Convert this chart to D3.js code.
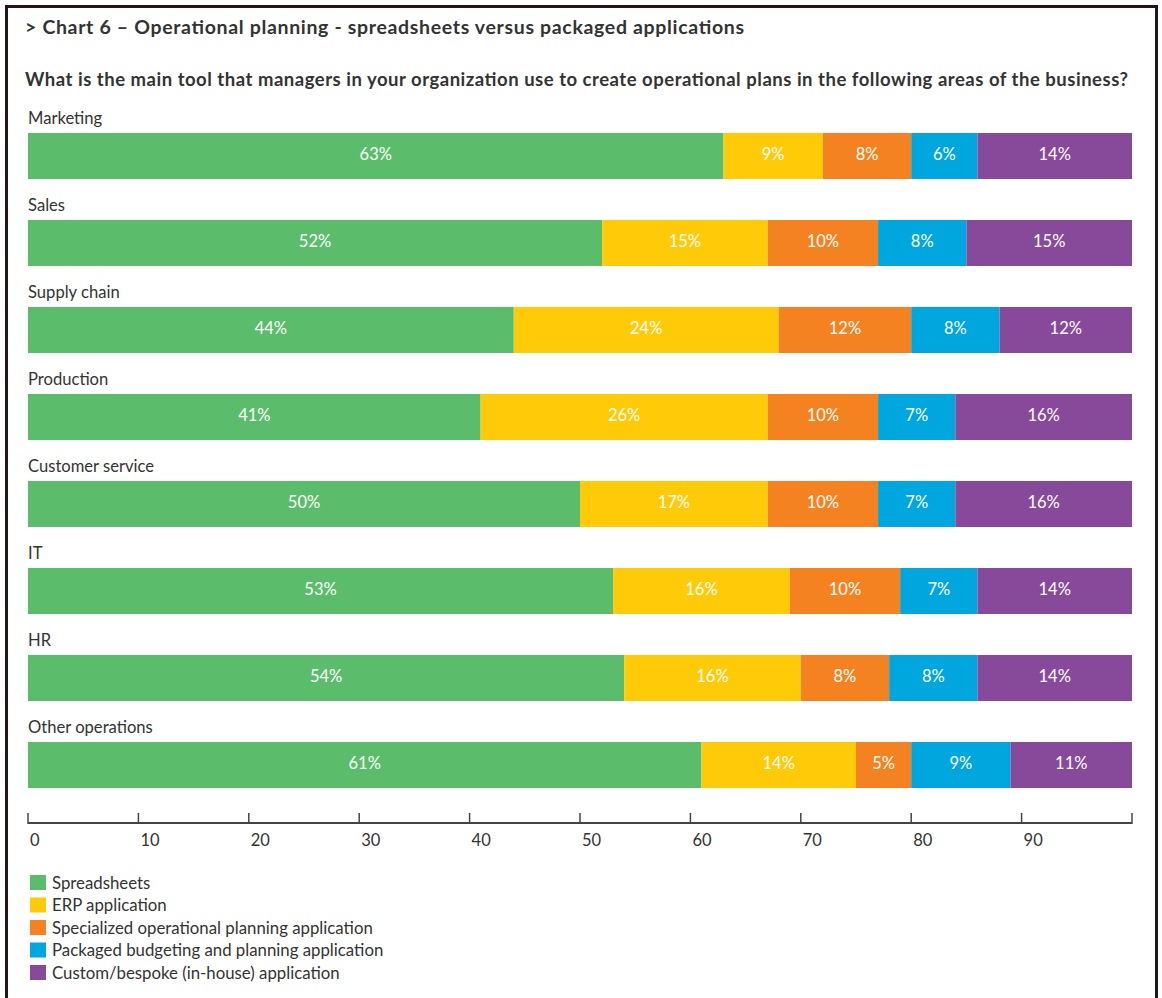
<!DOCTYPE html>
<html>
<head>
<meta charset="utf-8">
<script src="https://cdn.jsdelivr.net/npm/d3@7"></script>
<style>
  body { margin: 0; background: #fff; }
  svg text { font-family: Lato, "Open Sans", sans-serif; }
</style>
</head>
<body>
<svg width="1162" height="998"></svg>
<script>
var categories = ["Marketing", "Sales", "Supply chain", "Production", "Customer service", "IT", "HR", "Other operations"];
var seriesNames = ["Spreadsheets", "ERP application", "Specialized operational planning application",
  "Packaged budgeting and planning application", "Custom/bespoke (in-house) application"];
var spreadsheets = [63, 52, 44, 41, 50, 53, 54, 61];
var erp = [9, 15, 24, 26, 17, 16, 16, 14];
var specialized = [8, 10, 12, 10, 10, 10, 8, 5];
var packaged = [6, 8, 8, 7, 7, 7, 8, 9];
var custom = [14, 15, 12, 16, 16, 14, 14, 11];
var ticks = [0, 10, 20, 30, 40, 50, 60, 70, 80, 90];

var colors = ["#5bbd6b", "#ffca08", "#f58220", "#00a6de", "#874a9a"];

var svg = d3.select("svg"),
    width = +svg.attr("width"),
    height = +svg.attr("height");

// frame (open at the bottom)
svg.append("path")
  .attr("d", "M6.5," + height + "V6.5H1156.5V" + height)
  .attr("fill", "none")
  .attr("stroke", "#241616")
  .attr("stroke-width", 3);

svg.append("text")
  .attr("x", 25).attr("y", 34)
  .attr("font-size", 19.5).attr("font-weight", "bold").attr("fill", "#333")
  .attr("textLength", 719).attr("lengthAdjust", "spacing")
  .text("> Chart 6 \u2013 Operational planning - spreadsheets versus packaged applications");

svg.append("text")
  .attr("x", 25).attr("y", 86)
  .attr("font-size", 18.5).attr("font-weight", "bold").attr("fill", "#333")
  .attr("textLength", 1103).attr("lengthAdjust", "spacing")
  .text("What is the main tool that managers in your organization use to create operational plans in the following areas of the business?");

var x = d3.scaleLinear().domain([0, 100]).range([28, 1132]);
var y = d3.scaleBand().domain(categories).range([133 - 41, 133 - 41 + 87 * 8]).paddingInner(0);

var rows = categories.map(function(c, i) {
  return { cat: c, v: [spreadsheets[i], erp[i], specialized[i], packaged[i], custom[i]] };
});

var row = svg.selectAll("g.row")
  .data(rows)
  .enter().append("g")
  .attr("class", "row")
  .attr("transform", function(d) { return "translate(0," + y(d.cat) + ")"; });

row.append("text")
  .attr("x", 28).attr("y", 32)
  .attr("font-size", 16.6).attr("fill", "#333")
  .text(function(d) { return d.cat; });

var seg = row.selectAll("g.seg")
  .data(function(d) {
    var acc = 0;
    return d.v.map(function(v, k) { var s = acc; acc += v; return { s: s, e: acc, v: v, k: k }; });
  })
  .enter().append("g").attr("class", "seg");

seg.append("rect")
  .attr("x", function(d) { return x(d.s); })
  .attr("y", 41)
  .attr("width", function(d) { return x(d.e) - x(d.s); })
  .attr("height", 46)
  .attr("fill", function(d) { return colors[d.k]; });

seg.append("text")
  .attr("x", function(d) { return (x(d.s) + x(d.e)) / 2; })
  .attr("y", 62)
  .attr("dy", "0.35em")
  .attr("text-anchor", "middle")
  .attr("font-size", 16.5).attr("fill", "#fff")
  .text(function(d) { return d.v + "%"; });

// axis
var axis = svg.append("g").attr("transform", "translate(0,823)");
axis.append("line")
  .attr("x1", x(0)).attr("x2", x(100))
  .attr("stroke", "#444").attr("stroke-width", 2);
axis.append("line")
  .attr("x1", x(100)).attr("x2", x(100)).attr("y1", 1).attr("y2", -10)
  .attr("stroke", "#444").attr("stroke-width", 1.5);
var t = axis.selectAll("g.tick").data(ticks).enter().append("g")
  .attr("transform", function(d) { return "translate(" + x(d) + ",0)"; });
t.append("line").attr("y1", 1).attr("y2", -10)
  .attr("stroke", "#444").attr("stroke-width", 1.5);
t.append("text")
  .attr("x", 2).attr("y", 23)
  .attr("font-size", 16.5).attr("fill", "#333")
  .text(function(d) { return d; });

// legend
var leg = svg.selectAll("g.leg").data(seriesNames).enter().append("g")
  .attr("transform", function(d, i) { return "translate(30," + (875 + i * 22.5) + ")"; });
leg.append("rect").attr("width", 16).attr("height", 15)
  .attr("fill", function(d, i) { return colors[i]; });
leg.append("text")
  .attr("x", 22).attr("y", 8).attr("dy", "0.35em")
  .attr("font-size", 16.8).attr("fill", "#333")
  .text(function(d) { return d; });
</script>
</body>
</html>
